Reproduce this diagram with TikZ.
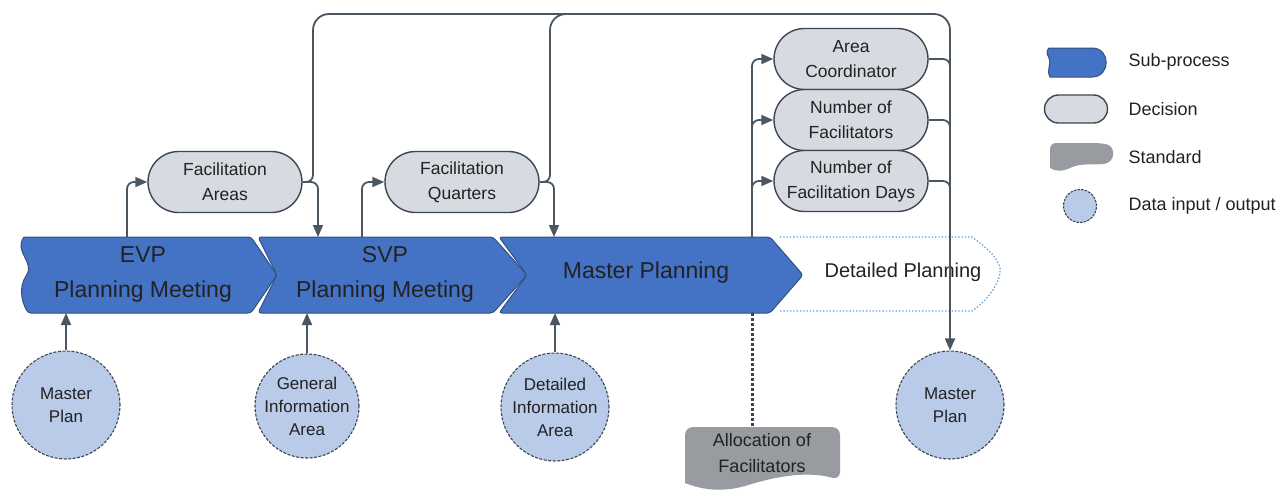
\documentclass[tikz,border=0pt]{standalone}
\usepackage{fontspec}
\setmainfont{Liberation Sans}
\usetikzlibrary{arrows.meta,shapes.misc}

\definecolor{procblue}{HTML}{4472C4}
\definecolor{procedge}{HTML}{34507F}
\definecolor{decfill}{HTML}{D7DAE0}
\definecolor{edgecol}{HTML}{3C4752}
\definecolor{datafill}{HTML}{B9CBE8}
\definecolor{stdfill}{HTML}{989BA0}
\definecolor{linecol}{HTML}{4B5663}
\definecolor{detcol}{HTML}{5B9BD5}
\definecolor{txt}{HTML}{222222}

\begin{document}
\begin{tikzpicture}[x=1pt,y=-1pt,
  link/.style={draw=linecol, line width=1.8pt, rounded corners=7pt},
  conn/.style={link, -{Triangle[length=12pt,width=10pt]}},
  decision/.style={rounded rectangle, draw=edgecol, line width=1.4pt, fill=decfill,
    minimum width=154pt, minimum height=61pt, inner sep=0pt, align=center,
    text=txt, font=\fontsize{17.5}{25}\selectfont},
  datacirc/.style={circle, draw=edgecol, line width=1.1pt, dash pattern=on 3pt off 1.5pt,
    fill=datafill, minimum size=108pt, inner sep=0pt, align=center,
    text=txt, font=\fontsize{17}{23}\selectfont},
  proc/.style={fill=procblue, draw=procedge, line width=1pt},
  proctext/.style={align=center, text=txt, font=\fontsize{23}{35}\selectfont},
  legtext/.style={anchor=west, text=txt, font=\fontsize{18}{22}\selectfont}]

\useasboundingbox (0,0) rectangle (1283,490);

% ---- sub-process chevrons ----
\path[proc] (24,237) [rounded corners=3pt] -- (251,237) -- (277,275) -- (251,313) -- (28,313) [sharp corners]
  .. controls (21,300) and (19,287) .. (26,276)
  .. controls (36,262) and (13,252) .. (24,237) -- cycle;
\path[proc, rounded corners=3pt] (258,237) -- (493,237) -- (527,275) -- (493,313) -- (258,313) -- (277,275) -- cycle;
\path[proc, rounded corners=3pt] (499,237) -- (770,237) -- (803,275) -- (770,313) -- (499,313) -- (527,275) -- cycle;

\node[proctext] (evp) at (143,274) {EVP\\Planning Meeting};
\node[proctext] (svp) at (385,274) {SVP\\Planning Meeting};
\node[proctext] (mpl) at (646,273) {Master Planning};

% ---- detailed planning (outline only) ----
\draw[detcol, line width=1.3pt, dotted] (780,237) -- (972,237)
  .. controls (990,250) and (1002,262) .. (1000,273)
  .. controls (998,285) and (988,300) .. (972,311) -- (780,311);
\node[text=txt, font=\fontsize{20}{24}\selectfont] (dpl) at (903,272) {Detailed Planning};

% ---- decisions ----
\node[decision] (fa) at (225,182) {Facilitation\\Areas};
\node[decision] (fq) at (462,182) {Facilitation\\Quarters};
\node[decision] (ac) at (851,59) {Area\\Coordinator};
\node[decision] (nf) at (851,120) {Number of\\Facilitators};
\node[decision] (nd) at (851,181) {Number of\\Facilitation Days};

% ---- data inputs / outputs ----
\node[datacirc] (mp1) at (66,405) {Master\\Plan};
\node[datacirc, minimum size=104pt] (gia) at (307,406) {General\\Information\\Area};
\node[datacirc] (dia) at (555,407) {Detailed\\Information\\Area};
\node[datacirc] (mp2) at (950,405) {Master\\Plan};

% ---- standard ----
\path[fill=stdfill] (685,483) [rounded corners=8pt] -- (685,427) -- (840,427) -- (840,480) [sharp corners]
  .. controls (805,470) and (770,478) .. (745,486) .. controls (720,493) and (700,489) .. (685,483) -- cycle;
\node[align=center, text=txt, font=\fontsize{18}{26}\selectfont] (alloc) at (762,453) {Allocation of\\Facilitators};
\coordinate (allocTop) at (752,427);

% ---- anchor points on chevrons ----
\coordinate (evpTop) at (127,237);
\coordinate (evpBot) at (66,313);
\coordinate (svpIn) at (318,237);
\coordinate (svpTop) at (362,237);
\coordinate (svpBot) at (307,313);
\coordinate (mplIn) at (554,237);
\coordinate (mplTop) at (752,237);
\coordinate (mplBot) at (555,313);
\coordinate (mplOut) at (752,313);

% ---- connectors ----
\draw[conn] (mp1.north) -- (evpBot);
\draw[conn] (gia.north) -- (svpBot);
\draw[conn] (dia.north) -- (mplBot);

\draw[conn] (evpTop) |- (fa.west);
\draw[conn] (fa.east) -| (svpIn);
\draw[conn] (svpTop) |- (fq.west);
\draw[conn] (fq.east) -| (mplIn);

\draw[conn] (fa.east) -| (313,150) [rounded corners=16pt] |- (950,14) -- (mp2.north);
\draw[link] (fq.east) -| (550,150) [rounded corners=16pt] |- (620,14);

\draw[conn] (mplTop) |- (ac.west);
\draw[conn] (mplTop) |- (nf.west);
\draw[conn] (mplTop) |- (nd.west);

\draw[link] (ac.east) -| (950,95);
\draw[link] (nf.east) -| (950,150);
\draw[link] (nd.east) -| (950,215);

\draw[draw=linecol!80!black, line width=3pt, dash pattern=on 3pt off 2pt] (mplOut) -- (allocTop);

% ---- legend ----
\path[fill=procblue, draw=procedge, line width=1pt]
  (1049,48) -- (1092,48) .. controls (1111,48) and (1111,77) .. (1092,77) -- (1050,77)
  .. controls (1046,70) and (1052,63) .. (1049,58) .. controls (1047,54) and (1046,51) .. (1049,48) -- cycle;
\node[rounded rectangle, draw=edgecol, line width=1.4pt, fill=decfill,
  minimum width=63pt, minimum height=28pt, inner sep=0pt] (legDec) at (1076,109) {};
\path[fill=stdfill, rounded corners=6pt] (1050,168) -- (1050,143) -- (1100,143)
  [sharp corners] .. controls (1116,146) and (1116,162) .. (1104,164)
  .. controls (1090,165) and (1080,163) .. (1070,168) .. controls (1062,172) and (1054,171) .. (1050,168) -- cycle;
\node[circle, draw=edgecol, line width=1.1pt, dash pattern=on 2.5pt off 1.2pt,
  fill=datafill, minimum size=33pt, inner sep=0pt] (legData) at (1080,206) {};

\node[legtext] (legProcT) at (1125,62) {Sub-process};
\node[legtext] (legDecT) at (1125,109) {Decision};
\node[legtext] (legStdT) at (1125,157) {Standard};
\node[legtext] (legDataT) at (1125,206) {Data input / output};
\end{tikzpicture}
\end{document}
